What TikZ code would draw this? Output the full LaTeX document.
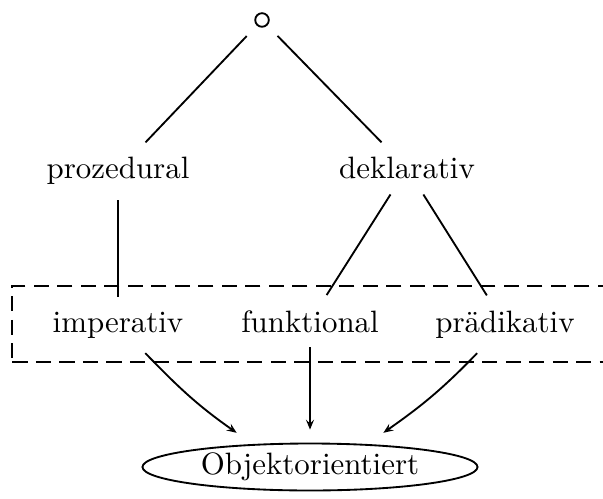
\documentclass[tikz,border=0pt]{standalone}
\usepackage{tikz}
\usetikzlibrary{arrows.meta,positioning,shapes.geometric,fit}

\begin{document}
\begin{tikzpicture}[
    x=0.3235pt, y=-0.3235pt,
    term/.style={anchor=base, inner xsep=3.33pt, inner ysep=4.7pt},
    root/.style={draw, semithick, circle, minimum size=4.4pt, inner sep=0pt, outer sep=5pt},
    line/.style={semithick},
    arrow/.style={-{Stealth[length=3.2pt, width=2.6pt, inset=1.2pt]}, semithick},
    group/.style={draw, semithick, dash pattern=on 4.9pt off 2.7pt, inner xsep=9.5pt, inner ysep=3pt},
    oval/.style={draw, semithick, ellipse, minimum width=108.4pt, minimum height=15.2pt, inner sep=0pt, outer sep=4.5pt}
]
\useasboundingbox (0,0) rectangle (603,498);

% Root and the two kinds
\node[root] (root) at (262,20) {};
\node[term] (proz) at (118,179) {prozedural};
\node[term] (dekl) at (407,179) {deklarativ};
\draw[line] (root) -- (proz);
\draw[line] (root) -- (dekl);

% Paradigms
\node[term] (imp) at (118,332) {imperativ};
\node[term] (funk) at (310,332) {funktional};
\node[term] (praed) at (505,332) {pr\"adikativ};
\draw[line] (proz) -- (imp);
\draw[line] (dekl) -- (funk);
\draw[line] (dekl) -- (praed);

% Dashed group
\node[group, fit=(imp)(funk)(praed)] (paradigms) {};

% Object orientation
\node[oval] (obj) at (310,467) {Objektorientiert};
\draw[arrow] (imp) to[out=-46, in=145] (obj.155);
\draw[arrow] (funk) -- (obj);
\draw[arrow] (praed) to[out=-134, in=35] (obj.25);

\end{tikzpicture}
\end{document}
